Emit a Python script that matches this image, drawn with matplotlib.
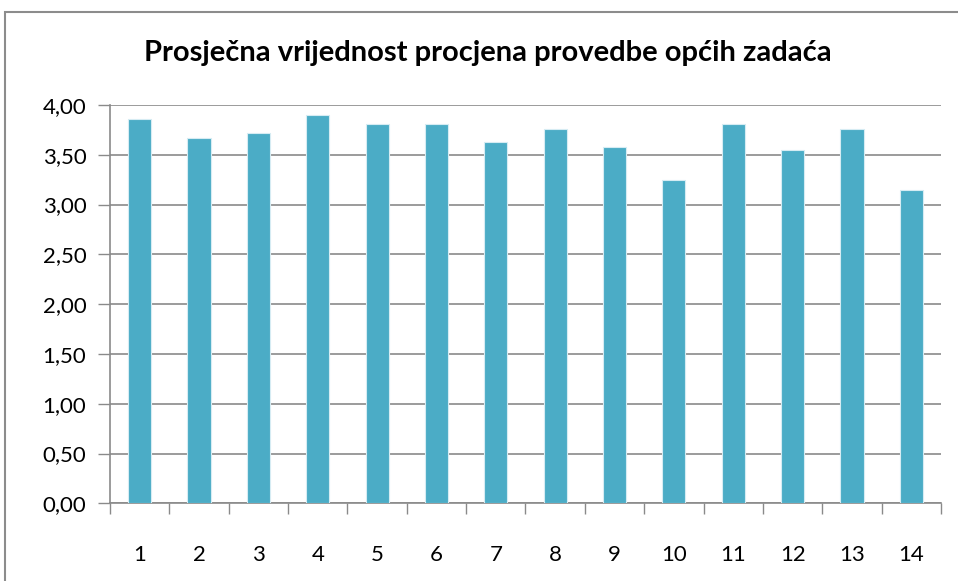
import matplotlib
matplotlib.use("Agg")
import matplotlib.pyplot as plt
from matplotlib.patches import Rectangle
from matplotlib.ticker import FuncFormatter, FixedLocator

# Podaci
zadaci = ['1', '2', '3', '4', '5', '6', '7', '8', '9', '10', '11', '12', '13', '14']
prosjek = [3.86, 3.67, 3.72, 3.90, 3.81, 3.81, 3.63, 3.76, 3.58, 3.25, 3.81, 3.55, 3.76, 3.15]
naslov = "Prosječna vrijednost procjena provedbe općih zadaća"

plt.rcParams['font.family'] = ['Lato', 'DejaVu Sans']

fig = plt.figure(figsize=(9.58, 5.81), dpi=100)

# okvir grafikona (Excel stil)
fig.patches.append(Rectangle((5 / 958, -0.05), 1.0, 1 - 12 / 581 + 0.05,
                             transform=fig.transFigure, fill=False,
                             edgecolor='#8c8c8c', linewidth=1.5))

ax = fig.add_axes([110 / 958, 1 - 503.3 / 581, (941 - 110) / 958, (503.3 - 105) / 581])

x = list(range(len(zadaci)))
ax.bar(x, prosjek, width=0.39, color='#4BACC6', edgecolor='#d6ecf3', linewidth=0.8, zorder=3)

ax.set_xlim(-0.5, len(zadaci) - 0.5)
ax.set_ylim(0, 4)
ax.set_yticks([i * 0.5 for i in range(9)])
ax.yaxis.set_major_formatter(FuncFormatter(lambda v, p: f"{v:.2f}".replace('.', ',')))
ax.grid(axis='y', color='#8a8a8a', linewidth=1.2, zorder=0)

ax.set_xticks(x)
ax.set_xticklabels(zadaci)
ax.xaxis.set_minor_locator(FixedLocator([i - 0.5 for i in range(len(zadaci) + 1)]))
ax.tick_params(axis='x', which='major', length=0, pad=30, labelsize=16)
ax.tick_params(axis='x', which='minor', length=8, color='#8a8a8a', width=1)
ax.tick_params(axis='y', length=9, color='#8a8a8a', width=1, labelsize=16, pad=8)

for s in ['top', 'right']:
    ax.spines[s].set_visible(False)
for s in ['left', 'bottom']:
    ax.spines[s].set_color('#8a8a8a')
    ax.spines[s].set_linewidth(1.2)

fig.text(488 / 958, 1 - 53 / 581, naslov, ha='center', va='center',
         fontsize=21, fontweight='bold')

fig.savefig('out.png', dpi=100)
